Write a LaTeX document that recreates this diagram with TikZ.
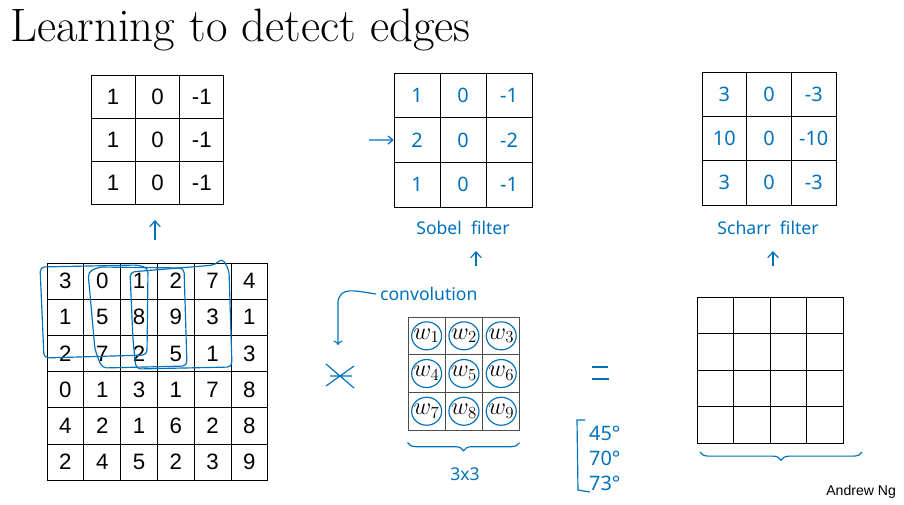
\documentclass[tikz,border=0pt]{standalone}
\usepackage{fontspec}
\setmainfont{Latin Modern Roman}
\newfontfamily\sansf{Liberation Sans}
\newfontfamily\handf{Noto Sans}
\usetikzlibrary{decorations.pathreplacing,arrows.meta}
\definecolor{ink}{RGB}{0,114,188}
\begin{document}
\begin{tikzpicture}[x=0.03cm,y=-0.03cm,
  cell/.style={draw=black,line width=0.8pt,inner sep=0pt,font=\sansf\fontsize{19}{20}\selectfont},
  bcell/.style={draw=black,line width=0.6pt,inner sep=0pt,text=ink,font=\handf\fontsize{17}{18}\selectfont},
  wcell/.style={draw=black!70,line width=0.8pt,inner sep=0pt,font=\fontsize{21}{22}\selectfont},
  hand/.style={ink,line width=1pt},
  htext/.style={text=ink,font=\handf\fontsize{15}{16}\selectfont},
  up/.style={hand,-{Straight Barb[length=5pt,width=9pt]}}]
\useasboundingbox (0,0) rectangle (904,504);
\node[anchor=west,font=\fontsize{40}{46}\selectfont] (title) at (6,30) {Learning to detect edges};
% top-left filter
\foreach \r/\row in {0/{1,0,-1},1/{1,0,-1},2/{1,0,-1}}{
  \foreach \v [count=\c from 0] in \row
    \node[cell,minimum width=44.3*0.03cm,minimum height=43*0.03cm] (A-\r-\c) at (91+44.3*\c+22.15,75+43*\r+21.5) {\v};}
% big input
\foreach \r/\row in {0/{3,0,1,2,7,4},1/{1,5,8,9,3,1},2/{2,7,2,5,1,3},3/{0,1,3,1,7,8},4/{4,2,1,6,2,8},5/{2,4,5,2,3,9}}{
  \foreach \v [count=\c from 0] in \row
    \node[cell,minimum width=36.8*0.03cm,minimum height=36.2*0.03cm] (B-\r-\c) at (47+36.8*\c+18.4,263+36.2*\r+18.1) {\v};}
% sobel
\foreach \r/\row in {0/{1,0,-1},1/{2,0,-2},2/{1,0,-1}}{
  \foreach \v [count=\c from 0] in \row
    \node[bcell,minimum width=46*0.03cm,minimum height=44.7*0.03cm] (S-\r-\c) at (394+46*\c+23,73+44.7*\r+22.35) {\v};}
% scharr
\foreach \r/\row in {0/{3,0,-3},1/{10,0,-10},2/{3,0,-3}}{
  \foreach \v [count=\c from 0] in \row
    \node[bcell,minimum width=44.7*0.03cm,minimum height=44.3*0.03cm] (H-\r-\c) at (702+44.7*\c+22.35,72+44.3*\r+22.15) {\v};}
% weights
\foreach \r in {0,1,2}{
  \foreach \c in {0,1,2}{
    \pgfmathtruncatemacro\k{3*\r+\c+1}
    \node[wcell,minimum width=37.3*0.03cm,minimum height=37.7*0.03cm] (W-\r-\c) at (408+37.3*\c+18.65,317+37.7*\r+18.85) {$w_{\k}$};
    \draw[hand] (W-\r-\c.center) ellipse [x radius=15, y radius=14];}}
% output grid
\foreach \r in {0,...,3}{
  \foreach \c in {0,...,3}
    \node[cell,minimum width=36.5*0.03cm,minimum height=36.5*0.03cm] (O-\r-\c) at (697+36.5*\c+18.25,297+36.5*\r+18.25) {};}
% blue boxes on input
\draw[hand,rounded corners=4pt] (40,267) -- (138,265) -- (148,268) -- (147,355) -- (44,358) -- cycle;
\draw[hand,rounded corners=4pt] (88,272) -- (99,267) -- (184,268) -- (187,366) -- (102,368) -- (95,350) -- cycle;
\draw[hand,rounded corners=4pt] (130,272) -- (215,265) -- (222,258) -- (229,270) -- (232,367) -- (136,369) -- (133,340) -- cycle;
% arrows
\coordinate (a1) at (155,240); \coordinate (a1t) at (155,220);
\draw[up] (a1) -- (a1t);
\node[htext,anchor=center] (sl) at (463,228) {Sobel\ \ filter};
\node[htext,anchor=center] (hl) at (768,228) {Scharr\ \ filter};
\coordinate (a2) at (476,266); \coordinate (a2t) at (476,251);
\coordinate (a3) at (773,266); \coordinate (a3t) at (773,251);
\draw[up] (a2) -- (a2t);
\draw[up] (a3) -- (a3t);
\coordinate (s0) at (369,140);
\draw[hand,-{Straight Barb[length=4pt,width=7pt]}] (s0) -- (S-1-0.west);
% convolution
\node[htext,anchor=west] (conv) at (376,294) {convolution};
\coordinate (cv) at (338,345);
\draw[hand,->] (conv.west) .. controls (355,291) and (340,286) .. (338,302) -- (cv);
\coordinate (ast) at (340,376);
\draw[hand] (ast) ++(-14,-12) -- ++(28,24) (ast) ++(-14,10) -- ++(28,-20) (ast) ++(-10,0) -- ++(22,0);
% equals
\coordinate (eq) at (600,373);
\draw[hand] (eq) ++(-8,-6) -- ++(16,0) (eq) ++(-8,6) -- ++(17,0);
% braces
\draw[hand,decorate,decoration={brace,mirror,amplitude=7pt}] (W-2-0.south west) ++(0,12) -- ++(112,0) coordinate (wb);
\node[htext] (n33) at (465,474) {3x3};
\draw[hand,decorate,decoration={brace,mirror,amplitude=7pt}] (700,452) -- (862,452);
% angles
\draw[hand] (585,420) -- (577,420) -- (578,490) -- (590,492);
\node[htext,anchor=west,font=\handf\fontsize{17}{18}\selectfont] (d1) at (585,433) {45°};
\node[htext,anchor=west,font=\handf\fontsize{17}{18}\selectfont] (d2) at (585,458) {70°};
\node[htext,anchor=west,font=\handf\fontsize{17}{18}\selectfont] (d3) at (585,483) {73°};
\node[anchor=east,font=\sansf\fontsize{12}{13}\selectfont] (an) at (900,492) {Andrew Ng};
\end{tikzpicture}
\end{document}
